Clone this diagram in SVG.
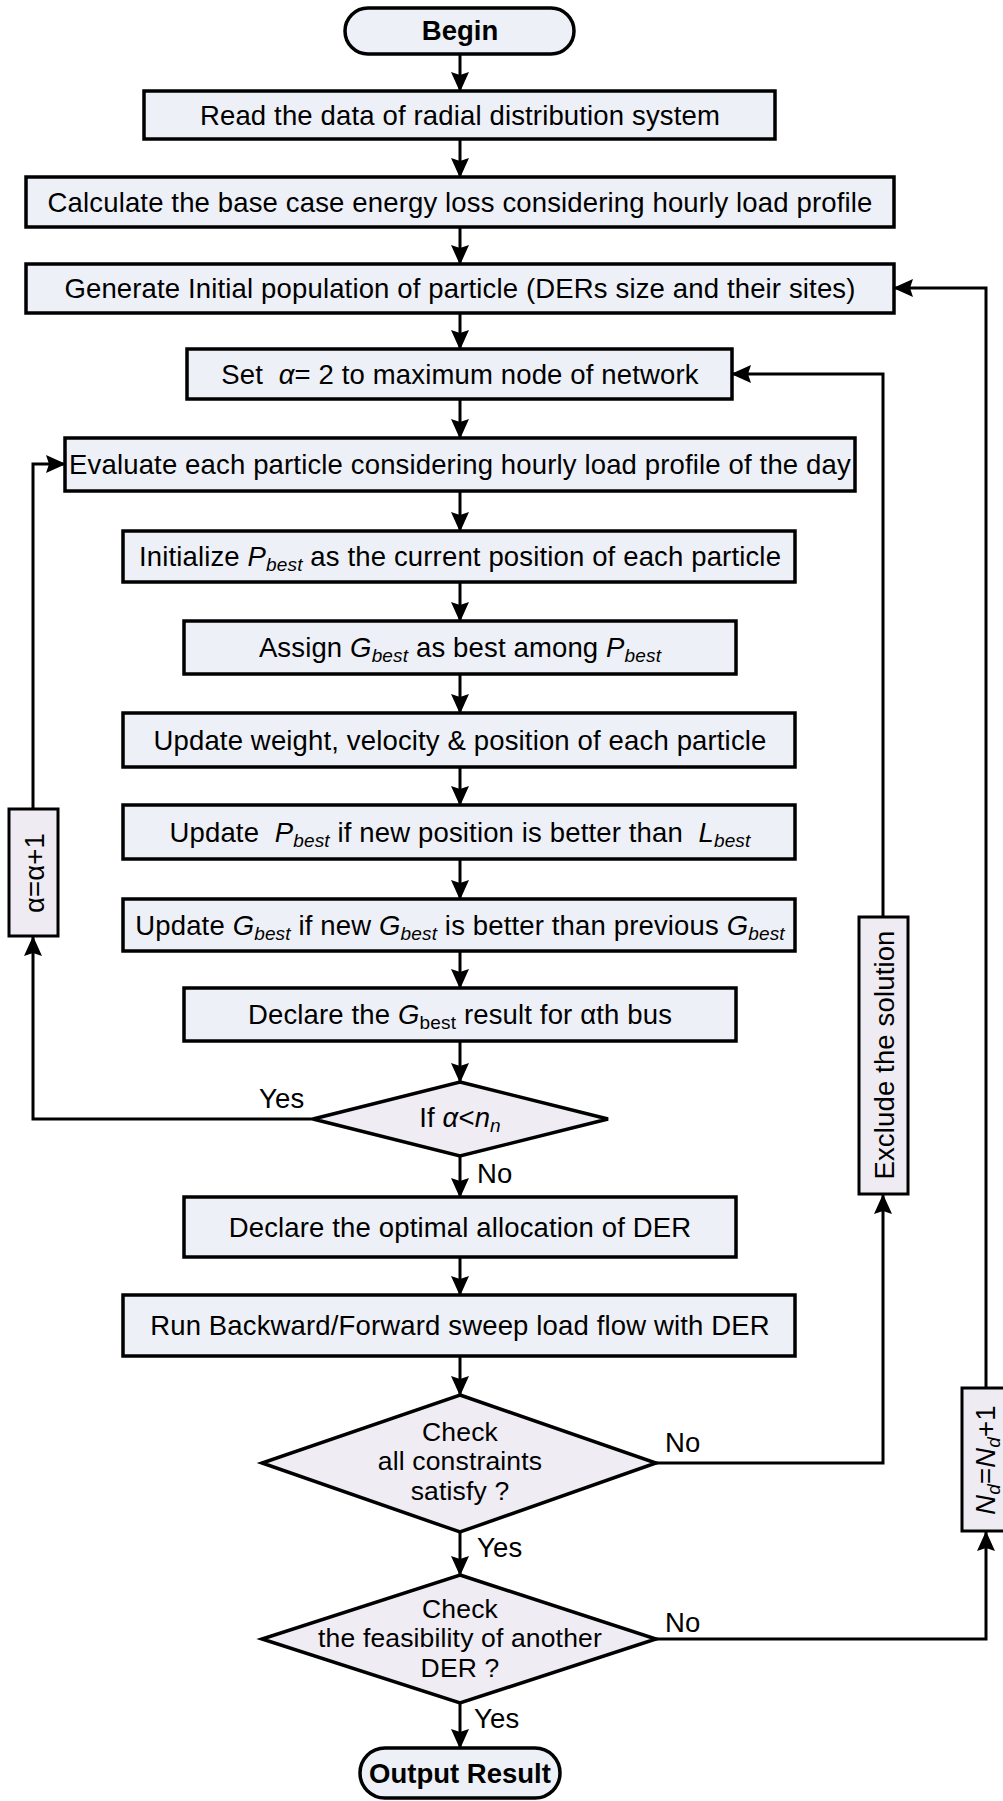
<svg xmlns="http://www.w3.org/2000/svg" width="1003" height="1801" viewBox="0 0 1003 1801">
<style>
text{font-family:"Liberation Sans",Arial,sans-serif;font-size:27.5px;letter-spacing:0.15px;fill:#000}
.c{text-anchor:middle}
.b{font-weight:bold;letter-spacing:0}
.i{font-style:italic}
.sub{font-size:19px}
.dt{font-size:26.5px}
.box{fill:#edf0f6;stroke:#000;stroke-width:3.5}
.alt{fill:#eeebf3;stroke:#000;stroke-width:3}
.dia{fill:#efecf4;stroke:#000;stroke-width:3.5;stroke-linejoin:miter}
.ar{fill:none;stroke:#000;stroke-width:3;marker-end:url(#ah)}
</style>
<defs>
<marker id="ah" viewBox="0 0 20 18" refX="19" refY="9" markerWidth="20" markerHeight="18" markerUnits="userSpaceOnUse" orient="auto">
<path d="M0,0 L20,9 L0,18 L3,9 z" fill="#000"/>
</marker>
</defs>
<rect width="1003" height="1801" fill="#fff"/>

<g id="connectors">
<line class="ar" x1="460" y1="54" x2="460" y2="91"/>
<line class="ar" x1="460" y1="139" x2="460" y2="177"/>
<line class="ar" x1="460" y1="227" x2="460" y2="264"/>
<line class="ar" x1="460" y1="313" x2="460" y2="349"/>
<line class="ar" x1="460" y1="399" x2="460" y2="438"/>
<line class="ar" x1="460" y1="491" x2="460" y2="531"/>
<line class="ar" x1="460" y1="582" x2="460" y2="621"/>
<line class="ar" x1="460" y1="674" x2="460" y2="713"/>
<line class="ar" x1="460" y1="767" x2="460" y2="805"/>
<line class="ar" x1="460" y1="859" x2="460" y2="899"/>
<line class="ar" x1="460" y1="951" x2="460" y2="988"/>
<line class="ar" x1="460" y1="1041" x2="460" y2="1082"/>
<line class="ar" x1="460" y1="1156" x2="460" y2="1197"/>
<line class="ar" x1="460" y1="1257" x2="460" y2="1295"/>
<line class="ar" x1="460" y1="1356" x2="460" y2="1395"/>
<line class="ar" x1="460" y1="1532" x2="460" y2="1575"/>
<line class="ar" x1="460" y1="1703" x2="460" y2="1748"/>
<polyline class="ar" points="313,1119 33,1119 33,937"/>
<polyline class="ar" points="33,809 33,464 65,464"/>
<polyline class="ar" points="656,1463 883,1463 883,1195"/>
<polyline class="ar" points="883,917 883,374 732,374"/>
<polyline class="ar" points="656,1639 986,1639 986,1532"/>
<polyline class="ar" points="986,1388 986,288 894,288"/>
<text x="259" y="1108">Yes</text>
<text x="477" y="1183">No</text>
<text x="665" y="1452">No</text>
<text x="477" y="1557">Yes</text>
<text x="665" y="1632">No</text>
<text x="474" y="1728">Yes</text>
</g>

<g id="begin">
<rect class="box" x="345" y="8" width="229" height="46" rx="23"/>
<text class="c b" x="460" y="40">Begin</text>
</g>
<g id="read">
<rect class="box" x="144" y="91" width="631" height="48"/>
<text class="c" x="460" y="124.5">Read the data of radial distribution system</text>
</g>
<g id="calc">
<rect class="box" x="26" y="177" width="868" height="50"/>
<text class="c" x="460" y="211.5">Calculate the base case energy loss considering hourly load profile</text>
</g>
<g id="generate">
<rect class="box" x="26" y="264" width="868" height="49"/>
<text class="c" x="460" y="298">Generate Initial population of particle (DERs size and their sites)</text>
</g>
<g id="set">
<rect class="box" x="187" y="349" width="545" height="50"/>
<text class="c" x="460" y="383.5" xml:space="preserve">Set  <tspan class="i">α</tspan>= 2 to maximum node of network</text>
</g>
<g id="evaluate">
<rect class="box" x="65" y="438" width="790" height="53"/>
<text class="c" x="460" y="474">Evaluate each particle considering hourly load profile of the day</text>
</g>
<g id="initialize">
<rect class="box" x="123" y="531" width="672" height="51"/>
<text class="c" x="460" y="566">Initialize <tspan class="i">P</tspan><tspan class="i sub" dy="5">best</tspan><tspan dy="-5"> as the current position of each particle</tspan></text>
</g>
<g id="assign">
<rect class="box" x="184" y="621" width="552" height="53"/>
<text class="c" x="460" y="657">Assign <tspan class="i">G</tspan><tspan class="i sub" dy="5">best</tspan><tspan dy="-5"> as best among </tspan><tspan class="i">P</tspan><tspan class="i sub" dy="5">best</tspan></text>
</g>
<g id="update-weight">
<rect class="box" x="123" y="713" width="672" height="54"/>
<text class="c" x="460" y="749.5">Update weight, velocity &amp; position of each particle</text>
</g>
<g id="update-p">
<rect class="box" x="123" y="805" width="672" height="54"/>
<text class="c" x="460" y="841.5" xml:space="preserve">Update  <tspan class="i">P</tspan><tspan class="i sub" dy="5">best</tspan><tspan dy="-5"> if new position is better than  </tspan><tspan class="i">L</tspan><tspan class="i sub" dy="5">best</tspan></text>
</g>
<g id="update-g">
<rect class="box" x="123" y="899" width="672" height="52"/>
<text class="c" x="460" y="934.5">Update <tspan class="i">G</tspan><tspan class="i sub" dy="5">best</tspan><tspan dy="-5"> if new </tspan><tspan class="i">G</tspan><tspan class="i sub" dy="5">best</tspan><tspan dy="-5"> is better than previous </tspan><tspan class="i">G</tspan><tspan class="i sub" dy="5">best</tspan></text>
</g>
<g id="declare-g">
<rect class="box" x="184" y="988" width="552" height="53"/>
<text class="c" x="460" y="1024">Declare the <tspan class="i">G</tspan><tspan class="sub" dy="5">best</tspan><tspan dy="-5"> result for αth bus</tspan></text>
</g>
<g id="if-alpha">
<polygon class="dia" points="460,1082 608,1119 460,1156 313,1119"/>
<text class="c" x="460" y="1127">If <tspan class="i">α</tspan>&lt;<tspan class="i">n</tspan><tspan class="i sub" dy="5">n</tspan></text>
</g>
<g id="declare-opt">
<rect class="box" x="184" y="1197" width="552" height="60"/>
<text class="c" x="460" y="1236.5">Declare the optimal allocation of DER</text>
</g>
<g id="run-bfs">
<rect class="box" x="123" y="1295" width="672" height="61"/>
<text class="c" x="460" y="1335">Run Backward/Forward sweep load flow with DER</text>
</g>
<g id="check-constraints">
<polygon class="dia" points="460,1395 656,1463 460,1532 262,1463"/>
<text class="c dt" x="460" y="1440.5"><tspan x="460">Check</tspan><tspan x="460" dy="29.8">all constraints</tspan><tspan x="460" dy="29.8">satisfy ?</tspan></text>
</g>
<g id="check-feasibility">
<polygon class="dia" points="460,1575 656,1639 460,1703 262,1639"/>
<text class="c dt" x="460" y="1617.5"><tspan x="460">Check</tspan><tspan x="460" dy="29.8">the feasibility of another</tspan><tspan x="460" dy="29.8">DER ?</tspan></text>
</g>
<g id="output">
<rect class="box" x="360" y="1748" width="200" height="50" rx="25"/>
<text class="c b" x="460" y="1783">Output Result</text>
</g>
<g id="alpha-inc">
<rect class="alt" x="9" y="809" width="49" height="127"/>
<text class="c" transform="translate(33.5,873) rotate(-90)" y="10">α=α+1</text>
</g>
<g id="exclude">
<rect class="alt" x="859" y="917" width="49" height="277"/>
<text class="c" transform="translate(883.5,1055) rotate(-90)" y="10">Exclude the solution</text>
</g>
<g id="nd-inc">
<rect class="alt" x="962" y="1388" width="48" height="143"/>
<text class="c" transform="translate(986,1460) rotate(-90)" y="9"><tspan class="i">N</tspan><tspan class="i sub" dy="5">d</tspan><tspan dy="-5">=</tspan><tspan class="i">N</tspan><tspan class="i sub" dy="5">d</tspan><tspan dy="-5">+1</tspan></text>
</g>
</svg>
